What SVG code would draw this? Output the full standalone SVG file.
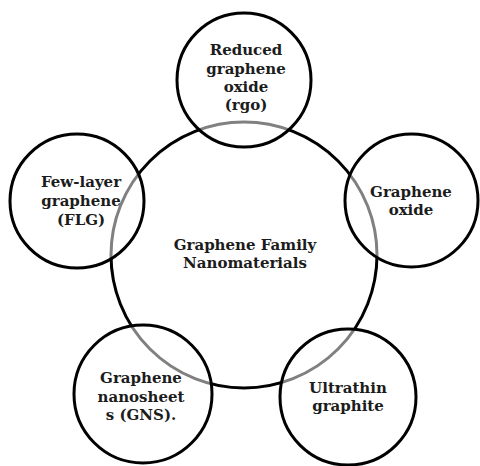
<svg xmlns="http://www.w3.org/2000/svg" width="480" height="466" viewBox="0 0 480 466">
  <style>
    .hub { fill: #ffffff; stroke: #000000; stroke-width: 3; }
    .sat { fill: #ffffff; fill-opacity: 0.5; stroke: #000000; stroke-width: 3; }
    .lbl { font-family: "DejaVu Serif", "Liberation Serif", serif; font-weight: bold; font-size: 15px; fill: #1c1c1c; text-anchor: middle; }
  </style>
  <rect width="480" height="466" fill="#ffffff"/>

  <!-- central family circle -->
  <g id="family">
    <circle class="hub" cx="244" cy="255" r="133"/>
    <text class="lbl" x="245" y="250">Graphene Family</text>
    <text class="lbl" x="245" y="268">Nanomaterials</text>
  </g>

  <!-- surrounding members, semi-transparent so the hub outline shows through -->
  <g id="rgo">
    <circle class="sat" cx="244" cy="80" r="67"/>
    <text class="lbl" x="246" y="55">Reduced</text>
    <text class="lbl" x="246" y="73.5">graphene</text>
    <text class="lbl" x="246" y="92">oxide</text>
    <text class="lbl" x="246" y="110">(rgo)</text>
  </g>

  <g id="flg">
    <circle class="sat" cx="77" cy="201" r="67"/>
    <text class="lbl" x="81" y="187">Few-layer</text>
    <text class="lbl" x="81" y="206">graphene</text>
    <text class="lbl" x="81" y="225">(FLG)</text>
  </g>

  <g id="go">
    <circle class="sat" cx="411.5" cy="200.5" r="66.5"/>
    <text class="lbl" x="411" y="197">Graphene</text>
    <text class="lbl" x="411" y="215">oxide</text>
  </g>

  <g id="gns">
    <circle class="sat" cx="143" cy="394" r="69"/>
    <text class="lbl" x="141" y="383">Graphene</text>
    <text class="lbl" x="141" y="402">nanosheet</text>
    <text class="lbl" x="141" y="420">s (GNS).</text>
  </g>

  <g id="ultrathin">
    <circle class="sat" cx="348" cy="397" r="68"/>
    <text class="lbl" x="348" y="393">Ultrathin</text>
    <text class="lbl" x="348" y="411">graphite</text>
  </g>
</svg>
